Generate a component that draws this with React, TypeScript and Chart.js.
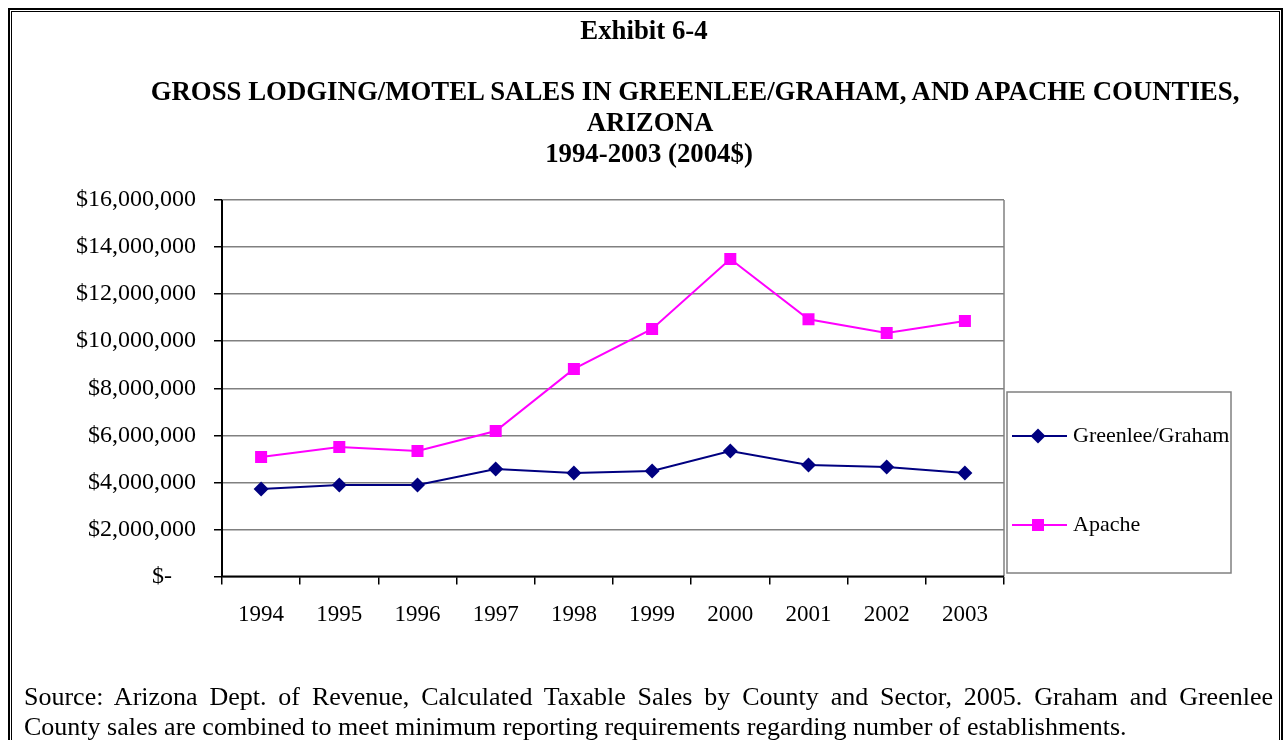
import React, { useEffect, useRef } from "react";
import { Chart, registerables } from "chart.js";

Chart.register(...registerables);

const years = ["1994", "1995", "1996", "1997", "1998", "1999", "2000", "2001", "2002", "2003"];
const greenleeGraham = [3720000, 3890000, 3890000, 4570000, 4400000, 4480000, 5330000, 4740000, 4650000, 4400000];
const apache = [5080000, 5500000, 5330000, 6180000, 8820000, 10520000, 13490000, 10930000, 10350000, 10860000];
const yTicks = { min: 0, max: 16000000, step: 2000000 };
const seriesNames = ["Greenlee/Graham", "Apache"];
const seriesColors = ["#000080", "#FF00FF"];

const SERIF = "'Liberation Serif', 'Times New Roman', serif";

const framePlugin = {
  id: "frame",
  beforeDatasetsDraw(chart: any) {
    const { ctx, chartArea } = chart;
    const { left, right, top, bottom } = chartArea;
    ctx.save();
    ctx.strokeStyle = "#808080";
    ctx.lineWidth = 1.5;
    ctx.beginPath();
    ctx.moveTo(right, top);
    ctx.lineTo(right, bottom);
    ctx.stroke();
    ctx.strokeStyle = "#000000";
    ctx.lineWidth = 2;
    ctx.beginPath();
    ctx.moveTo(left, top);
    ctx.lineTo(left, bottom);
    ctx.lineTo(right, bottom);
    ctx.stroke();
    ctx.restore();
  },
  afterDraw(chart: any) {
    const ctx = chart.ctx;
    ctx.save();
    ctx.strokeStyle = "#808080";
    ctx.lineWidth = 1.5;
    ctx.strokeRect(1007, 392, 224, 181);
    const items = [
      { y: 436, style: "diamond" },
      { y: 525, style: "square" },
    ];
    items.forEach((it, i) => {
      ctx.strokeStyle = seriesColors[i];
      ctx.fillStyle = seriesColors[i];
      ctx.lineWidth = 2;
      ctx.beginPath();
      ctx.moveTo(1012, it.y);
      ctx.lineTo(1067, it.y);
      ctx.stroke();
      const cx = 1038;
      ctx.beginPath();
      if (it.style === "diamond") {
        ctx.moveTo(cx - 7.5, it.y);
        ctx.lineTo(cx, it.y - 7.5);
        ctx.lineTo(cx + 7.5, it.y);
        ctx.lineTo(cx, it.y + 7.5);
        ctx.closePath();
      } else {
        ctx.rect(cx - 6, it.y - 6, 12, 12);
      }
      ctx.fill();
      ctx.fillStyle = "#000";
      ctx.font = `22px ${SERIF}`;
      ctx.textAlign = "left";
      ctx.textBaseline = "middle";
      ctx.fillText(seriesNames[i], 1073, it.y);
    });
    ctx.restore();
  },
};

export default function App() {
  const ref = useRef<HTMLCanvasElement | null>(null);

  useEffect(() => {
    if (!ref.current) return;
    Chart.defaults.font.family = SERIF;
    const chart = new Chart(ref.current, {
      type: "line",
      data: {
        labels: years,
        datasets: [
          {
            label: seriesNames[0],
            data: greenleeGraham,
            borderColor: seriesColors[0],
            backgroundColor: seriesColors[0],
            borderWidth: 2,
            pointStyle: "rectRot",
            pointRadius: 7.5,
            pointBorderWidth: 0,
            tension: 0,
          },
          {
            label: seriesNames[1],
            data: apache,
            borderColor: seriesColors[1],
            backgroundColor: seriesColors[1],
            borderWidth: 2,
            pointStyle: "rect",
            pointRadius: 8.5,
            pointBorderWidth: 0,
            tension: 0,
          },
        ],
      },
      options: {
        responsive: false,
        animation: false,
        devicePixelRatio: 1,
        layout: { padding: { left: 0, top: 200, right: 281, bottom: 103.5 } },
        plugins: { legend: { display: false }, tooltip: { enabled: false }, title: { display: false } },
        scales: {
          x: {
            type: "category",
            offset: true,
            afterFit: (s: any) => {
              s.height = 60;
            },
            grid: {
              offset: true,
              drawOnChartArea: false,
              drawTicks: true,
              tickLength: 8,
              color: "#000",
              tickColor: "#000",
              lineWidth: 1.5,
            },
            border: { display: false },
            ticks: {
              color: "#000",
              font: { size: 23, family: SERIF },
              padding: 17,
              maxRotation: 0,
              autoSkip: false,
            },
          },
          y: {
            min: yTicks.min,
            max: yTicks.max,
            afterFit: (s: any) => {
              s.width = 222;
            },
            grid: {
              color: "#808080",
              lineWidth: 1.5,
              drawTicks: true,
              tickLength: 8,
              tickColor: "#000",
            },
            border: { display: false },
            ticks: {
              stepSize: yTicks.step,
              color: "#000",
              font: { size: 24, family: SERIF },
              padding: 18,
              callback: (v: any) => (Number(v) === 0 ? "$-    " : "$" + Number(v).toLocaleString("en-US")),
            },
          },
        },
      },
      plugins: [framePlugin],
    });
    return () => chart.destroy();
  }, []);

  const titleStyle: React.CSSProperties = {
    position: "absolute",
    fontFamily: SERIF,
    fontWeight: "bold",
    fontSize: 26.8,
    lineHeight: "30px",
    whiteSpace: "nowrap",
    transform: "translateX(-50%)",
    color: "#000",
  };
  const srcStyle: React.CSSProperties = {
    position: "absolute",
    left: 24,
    width: 1249,
    fontFamily: SERIF,
    fontSize: 26,
    lineHeight: "30px",
    color: "#000",
    whiteSpace: "nowrap",
  };

  return (
    <div style={{ position: "fixed", left: 0, top: 0, width: 1285, height: 740, overflow: "hidden", background: "#fff" }}>
      <div style={{ position: "absolute", left: 8, top: 8, width: 1271, height: 800, border: "2px solid #000" }} />
      <div style={{ position: "absolute", left: 11, top: 11, width: 1267, height: 800, border: "1px solid #000" }} />
      <canvas ref={ref} width={1285} height={740} style={{ position: "absolute", left: 0, top: 0 }} />
      <div style={{ ...titleStyle, left: 644, top: 15 }}>Exhibit 6-4</div>
      <div style={{ ...titleStyle, left: 695, top: 76 }}>
        GROSS LODGING/MOTEL SALES IN GREENLEE/GRAHAM, AND APACHE COUNTIES,
      </div>
      <div style={{ ...titleStyle, left: 650, top: 107 }}>ARIZONA</div>
      <div style={{ ...titleStyle, left: 649, top: 138 }}>1994-2003 (2004$)</div>
      <div style={{ ...srcStyle, top: 682, textAlign: "justify", textAlignLast: "justify", whiteSpace: "normal" }}>
        Source: Arizona Dept. of Revenue, Calculated Taxable Sales by County and Sector, 2005. Graham and Greenlee
      </div>
      <div style={{ ...srcStyle, top: 712 }}>
        County sales are combined to meet minimum reporting requirements regarding number of establishments.
      </div>
    </div>
  );
}
